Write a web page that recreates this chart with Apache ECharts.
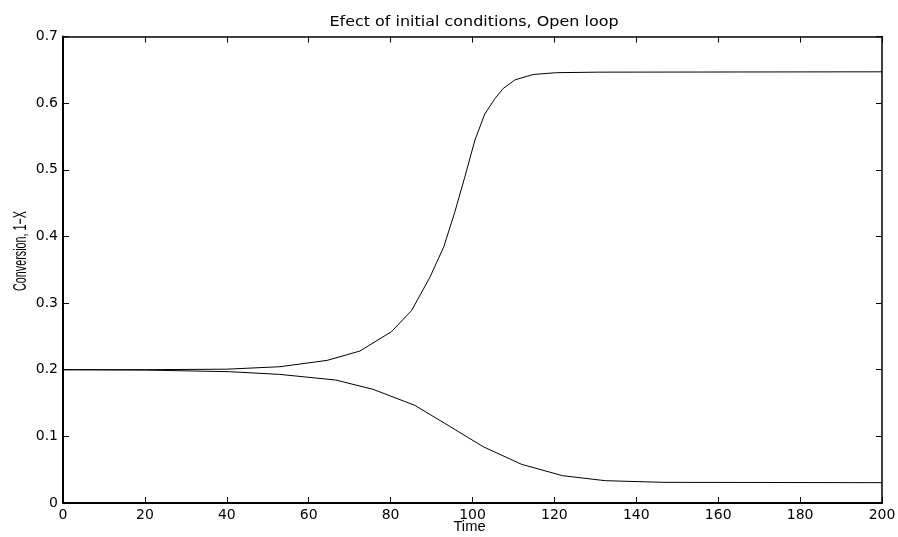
<!DOCTYPE html>
<html>
<head>
<meta charset="utf-8">
<script src="https://cdn.jsdelivr.net/npm/echarts@6/dist/echarts.min.js"></script>
<style>html,body{margin:0;padding:0;background:#fff;overflow:hidden;}#c{width:898px;height:537px;}</style>
</head>
<body>
<div id="c"></div>
<script>
// Upper trajectory: [time, conversion]
var upperCurve = [[0,0.2],[20,0.2],[40,0.2008],[53,0.2045],[64.5,0.214],[72.5,0.228],[80.2,0.257],[85.1,0.2886],[89.6,0.3387],[93,0.3846],[95.7,0.437],[98.1,0.4887],[100.6,0.5447],[103,0.5837],[105.5,0.607],[107.5,0.622],[110.4,0.635],[114.8,0.643],[120.5,0.6457],[131,0.6465],[200,0.647]];
// Lower trajectory: [time, conversion]
var lowerCurve = [[0,0.2],[20,0.1995],[40.7,0.197],[52.9,0.193],[66.6,0.1845],[75.7,0.1706],[85.9,0.1466],[92.8,0.1211],[102.6,0.0845],[112,0.058],[122,0.041],[132.4,0.0335],[146.6,0.031],[200,0.0305]];
var xTicks = [0,20,40,60,80,100,120,140,160,180,200];
var yTicks = [0,0.1,0.2,0.3,0.4,0.5,0.6,0.7];
var titleText = 'Efect of initial conditions, Open loop';
var xLabel = 'Time';
var yLabel = 'Conversion, 1\u2212X';

var chart = echarts.init(document.getElementById('c'));
var tickFont = {color:'#000', fontFamily:'DejaVu Sans', fontSize:14};
function xAx(pos, show){
  return {type:'value', position:pos, min:xTicks[0], max:xTicks[xTicks.length-1], interval:20,
    axisLine:{show:true, onZero:false, lineStyle:{color:'#000', width: pos==='bottom'?2:1.5}},
    axisTick:{show:true, inside:true, length:6, lineStyle:{color:'#000'}},
    axisLabel: show ? Object.assign({margin:5}, tickFont) : {show:false},
    splitLine:{show:false}};
}
function yAx(pos, show){
  return {type:'value', position:pos, min:yTicks[0], max:yTicks[yTicks.length-1], interval:0.1,
    axisLine:{show:true, onZero:false, lineStyle:{color:'#000', width: pos==='left'?2:1.5}},
    axisTick:{show:true, inside:true, length:6, lineStyle:{color:'#000'}},
    axisLabel: show ? Object.assign({margin:5, formatter:function(v){return String(Math.round(v*10)/10);}}, tickFont) : {show:false},
    splitLine:{show:false}};
}
chart.setOption({
  animation:false,
  backgroundColor:'#fff',
  grid:{left:63, right:16, top:36.5, bottom:34, containLabel:false, outerBoundsMode:'none'},
  xAxis:[xAx('bottom', true), xAx('top', false)],
  yAxis:[yAx('left', true), yAx('right', false)],
  graphic:[
    {type:'text', x:474, y:22.5, scaleX:1.14, scaleY:1,
      style:{text:titleText, fill:'#000', font:'14px "DejaVu Sans", sans-serif', align:'center', verticalAlign:'middle'}},
    {type:'text', x:469.5, y:527.5, scaleX:1.05, scaleY:1,
      style:{text:xLabel, fill:'#000', font:'14px "Liberation Sans", sans-serif', align:'center', verticalAlign:'middle'}},
    {type:'text', x:21.5, y:251, rotation:Math.PI/2, scaleX:0.72, scaleY:1.2,
      style:{text:yLabel, fill:'#000', font:'15px "Liberation Sans", sans-serif', align:'center', verticalAlign:'middle'}}
  ],
  series:[
    {type:'line', data:upperCurve, xAxisIndex:0, yAxisIndex:0, showSymbol:false, lineStyle:{color:'#000', width:1}},
    {type:'line', data:lowerCurve, xAxisIndex:0, yAxisIndex:0, showSymbol:false, lineStyle:{color:'#000', width:1}}
  ]
});
</script>
</body>
</html>
